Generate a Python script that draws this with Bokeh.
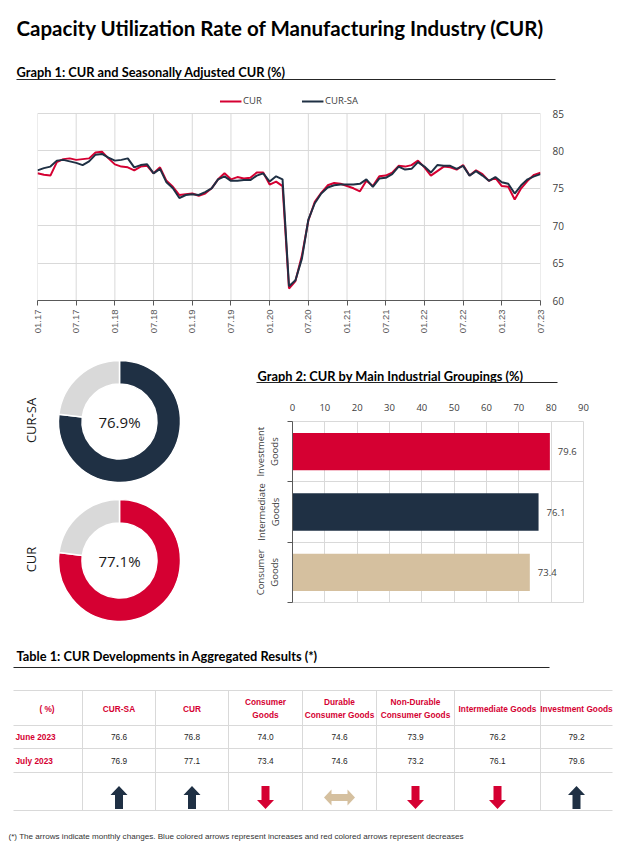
from math import pi
from bokeh.plotting import figure
from bokeh.models import Range1d, FixedTicker, Legend, LegendItem, ColumnDataSource, LinearAxis
from bokeh.layouts import column, row
from bokeh.embed import file_html
from bokeh.resources import INLINE
from bokeh.core.properties import value

RED = "#D50032"
NAVY = "#1F3044"
TAN = "#D5C09F"
LGRAY = "#D9D9D9"
TXT = "#404040"

# ---------------- data ----------------
cur = [
    77.0, 76.8, 76.7, 78.5, 78.9, 79.0, 78.8, 78.9, 79.0, 79.8, 79.9, 79.0,
    78.2, 77.9, 77.8, 77.4, 77.9, 78.0, 77.0, 77.8, 76.0, 75.2, 74.1, 74.2,
    74.3, 74.0, 74.3, 75.0, 76.2, 77.0, 76.2, 76.5, 76.3, 76.4, 77.1, 77.1,
    75.5, 75.9, 75.3, 61.6, 62.6, 66.0, 70.7, 73.2, 74.4, 75.4, 75.7, 75.6,
    75.3, 75.0, 74.6, 76.0, 75.3, 76.6, 76.7, 77.1, 78.0, 77.9, 78.1, 78.7,
    77.8, 76.7, 77.3, 77.9, 77.8, 77.5, 78.1, 76.7, 77.4, 76.9, 76.0, 76.4,
    75.3, 75.2, 73.5, 75.0, 76.0, 76.8, 77.1,
]
cur_sa = [
    77.4, 77.7, 77.9, 78.7, 78.8, 78.6, 78.4, 78.1, 78.6, 79.5, 79.6, 79.1,
    78.7, 78.8, 79.0, 77.8, 78.1, 78.2, 77.0, 77.6, 75.8, 75.0, 73.7, 74.1,
    74.2, 74.1, 74.5, 75.0, 76.2, 76.6, 76.0, 76.0, 76.1, 76.1, 76.7, 77.0,
    75.9, 76.6, 76.2, 61.9, 62.7, 65.6, 70.8, 73.0, 74.3, 75.1, 75.4, 75.5,
    75.5, 75.5, 75.6, 76.2, 75.2, 76.3, 76.4, 76.9, 77.9, 77.5, 77.6, 78.5,
    77.9, 77.1, 78.1, 78.0, 78.0, 77.6, 78.0, 76.7, 77.3, 76.7, 76.0, 76.5,
    75.8, 75.6, 74.3, 75.4, 76.2, 76.6, 76.9,
]
tick_labels = ["01.17", "07.17", "01.18", "07.18", "01.19", "07.19", "01.20",
               "07.20", "01.21", "07.21", "01.22", "07.22", "01.23", "07.23"]
months_per_tick = 6
y_ticks = [60, 65, 70, 75, 80, 85]

donut_labels = ["CUR-SA", "CUR"]
donut_values = [76.9, 77.1]

group_names = ["Investment Goods", "Intermediate Goods", "Consumer Goods"]
group_values = [79.6, 76.1, 73.4]
bar_ticks = [0, 10, 20, 30, 40, 50, 60, 70, 80, 90]

table_columns = ["CUR-SA", "CUR", "Consumer\nGoods", "Durable\nConsumer Goods",
                 "Non-Durable\nConsumer Goods", "Intermediate Goods", "Investment Goods"]
row_labels = ["June 2023", "July 2023"]
june_2023 = [76.6, 76.8, 74.0, 74.6, 73.9, 76.2, 79.2]
july_2023 = [76.9, 77.1, 73.4, 74.6, 73.2, 76.1, 79.6]

HEAD_FONT = value("Lato")
SANS = value("Open Sans")
ARIAL = value("Liberation Sans")
SANS_S = "Open Sans"
ARIAL_S = "Liberation Sans"
HEAD_SIZE = "12.8px"


def canvas(w, h, flip=True):
    p = figure(width=w, height=h, x_range=Range1d(0, w),
               y_range=Range1d(h, 0) if flip else Range1d(0, h),
               output_backend="svg", toolbar_location=None, min_border=0,
               x_axis_location=None, y_axis_location=None)
    p.grid.visible = False
    p.outline_line_color = None
    p.background_fill_color = "white"
    p.border_fill_color = "white"
    return p


# ---------------- header 1 ----------------
h1 = canvas(621, 87)
h1.text(x=[16], y=[27], text=["Capacity Utilization Rate of Manufacturing Industry (CUR)"],
        text_font=HEAD_FONT, text_font_style="bold", text_font_size="20.5px",
        text_baseline="middle", text_color="#000000")
h1.text(x=[16], y=[71], text=["Graph 1: CUR and Seasonally Adjusted CUR (%)"],
        text_font=HEAD_FONT, text_font_style="bold", text_font_size=HEAD_SIZE,
        text_baseline="middle", text_color="#000000")
h1.segment(x0=[16], x1=[555], y0=[79], y1=[79], line_color="#262626", line_width=1.2)

# ---------------- graph 1 ----------------
# frame extends above 85 so that the legend sits just above the plotting area
y_lo, y_hi = y_ticks[0], y_ticks[-1]
frame_top_extra = 19.0 / (187.0 / (y_hi - y_lo))   # 19 px of headroom for the legend
months = list(range(len(cur)))
src = ColumnDataSource(dict(m=months, cur=cur, sa=cur_sa))
p1 = figure(width=621, height=258, x_range=Range1d(0, len(cur) - 1),
            y_range=Range1d(y_lo, y_hi + frame_top_extra),
            y_axis_location="right", output_backend="svg", toolbar_location=None,
            min_border_left=37, min_border_right=81, min_border_bottom=45, min_border_top=7)
p1.outline_line_color = None

xt = [i * months_per_tick for i in range(len(tick_labels))]
# vertical grid lines limited to the 60-85 band
p1.segment(x0=xt, x1=xt, y0=[y_lo] * len(xt), y1=[y_hi] * len(xt),
           line_color=LGRAY, line_width=1)
r1 = p1.line("m", "cur", source=src, line_color=RED, line_width=2)
r2 = p1.line("m", "sa", source=src, line_color=NAVY, line_width=2)

p1.xaxis.ticker = FixedTicker(ticks=xt)
p1.xaxis.major_label_overrides = {t: lab for t, lab in zip(xt, tick_labels)}
p1.xaxis.major_label_orientation = pi / 2
p1.xaxis.major_label_text_font = ARIAL_S
p1.xaxis.major_label_text_font_size = "9.5px"
p1.xaxis.major_label_text_color = "#595959"
p1.xaxis.major_label_standoff = 4
p1.xaxis.axis_line_color = "#595959"
p1.xaxis.major_tick_line_color = "#595959"
p1.xaxis.major_tick_out = 5
p1.xaxis.major_tick_in = 0
p1.xaxis.minor_tick_line_color = None

p1.yaxis.ticker = FixedTicker(ticks=y_ticks)
p1.yaxis.axis_line_color = None
p1.yaxis.major_tick_line_color = None
p1.yaxis.minor_tick_line_color = None
p1.yaxis.major_label_standoff = 6
p1.yaxis.major_label_text_font = SANS_S
p1.yaxis.major_label_text_font_size = "10px"
p1.yaxis.major_label_text_color = TXT

p1.xgrid.grid_line_color = None
p1.ygrid.grid_line_color = LGRAY

leg = Legend(items=[LegendItem(label="CUR", renderers=[r1]),
                    LegendItem(label="CUR-SA", renderers=[r2])],
             orientation="horizontal", location="top_center",
             glyph_width=22, glyph_height=12, label_height=12, label_standoff=2,
             label_text_font=SANS_S, label_text_font_size="9.5px", label_text_color=TXT,
             padding=0, margin=0, spacing=38, border_line_color=None,
             background_fill_alpha=0)
p1.add_layout(leg)

# ---------------- donuts ----------------
pd = canvas(240, 292, flip=False)
donut_cy = [216, 77]
donut_colors = [NAVY, RED]
for lab, v, cy, col in zip(donut_labels, donut_values, donut_cy, donut_colors):
    a_end = pi / 2 - 2 * pi * v / 100
    pd.annular_wedge(x=[119, 119], y=[cy, cy], inner_radius=37.5, outer_radius=61,
                     start_angle=[pi / 2, a_end], end_angle=[a_end, pi / 2 - 2 * pi],
                     direction="clock", fill_color=[col, LGRAY],
                     line_color="white", line_width=1.5)
    pd.text(x=[119], y=[cy], text=[f"{v}%"], text_font=SANS, text_font_size="15px",
            text_align="center", text_baseline="middle", text_color="#1a1a1a")
    pd.text(x=[30], y=[cy + 1], text=[lab], angle=pi / 2, text_font=SANS,
            text_font_size="13px", text_align="center", text_baseline="middle",
            text_color="#1a1a1a")

# ---------------- header 2 ----------------
h2 = canvas(381, 45)
h2.text(x=[17], y=[30], text=["Graph 2: CUR by Main Industrial Groupings (%)"],
        text_font=HEAD_FONT, text_font_style="bold", text_font_size=HEAD_SIZE,
        text_baseline="middle", text_color="#000000")
h2.segment(x0=[16], x1=[317], y0=[37], y1=[37], line_color="#262626", line_width=1.2)

# ---------------- graph 2 ----------------
n = len(group_names)
ypos = [n - i - 0.5 for i in range(n)]
pb = figure(width=381, height=247, x_range=Range1d(0, 90), y_range=Range1d(0, n),
            x_axis_location="above", output_backend="svg", toolbar_location=None,
            min_border_left=52, min_border_right=38, min_border_top=31, min_border_bottom=35)
pb.outline_line_color = LGRAY
pb.hbar(y=ypos, right=group_values, left=0, height=0.62, fill_color=[RED, NAVY, TAN],
        line_color=None)
pb.text(x=group_values, y=ypos, text=[f"{v:.1f}" for v in group_values], x_offset=8,
        text_font=SANS, text_font_size="9.5px", text_color=TXT, text_baseline="middle")
pb.xaxis.ticker = FixedTicker(ticks=bar_ticks)
pb.xaxis.axis_line_color = None
pb.xaxis.major_tick_line_color = None
pb.xaxis.minor_tick_line_color = None
pb.xaxis.major_label_standoff = 5
pb.xaxis.major_label_text_font = SANS_S
pb.xaxis.major_label_text_font_size = "9.5px"
pb.xaxis.major_label_text_color = TXT

inner = pb.yaxis[0]
inner.ticker = FixedTicker(ticks=ypos, minor_ticks=list(range(n + 1)))
inner.major_label_overrides = {y: nm.split(" ", 1)[1] for y, nm in zip(ypos, group_names)}
inner.major_label_orientation = "parallel"
inner.major_tick_line_color = None
inner.major_tick_out = 0
inner.minor_tick_line_color = "#595959"
inner.minor_tick_out = 5
inner.minor_tick_in = 0
inner.axis_line_color = "#595959"
inner.major_label_standoff = 6
inner.major_label_text_font = SANS_S
inner.major_label_text_font_size = "9.5px"
inner.major_label_text_color = TXT

outer = LinearAxis(ticker=FixedTicker(ticks=ypos),
                   major_label_overrides={y: nm.split(" ", 1)[0] for y, nm in zip(ypos, group_names)},
                   major_label_orientation="parallel", axis_line_color=None,
                   major_tick_line_color=None, minor_tick_line_color=None,
                   major_tick_out=0, major_label_standoff=-2,
                   major_label_text_font=SANS_S, major_label_text_font_size="9.5px",
                   major_label_text_color=TXT)
pb.add_layout(outer, "left")

pb.xgrid.grid_line_color = LGRAY
pb.ygrid.ticker = FixedTicker(ticks=list(range(n + 1)))
pb.ygrid.grid_line_color = LGRAY

# ---------------- table ----------------
pt = canvas(621, 208)
pt.text(x=[16], y=[18], text=["Table 1: CUR Developments in Aggregated Results (*)"],
        text_font=HEAD_FONT, text_font_style="bold", text_font_size=HEAD_SIZE,
        text_baseline="middle", text_color="#000000")
pt.segment(x0=[13], x1=[549], y0=[30], y1=[30], line_color="#262626", line_width=1.2)

bounds = [13, 82, 155, 228, 302, 376, 454, 540, 612]
centers = [(a + b) / 2 for a, b in zip(bounds[:-1], bounds[1:])]
hy = [53, 88, 111, 135, 173]
pt.segment(x0=[bounds[0]] * len(hy), x1=[bounds[-1]] * len(hy), y0=hy, y1=hy,
           line_color=LGRAY, line_width=1)
vx = bounds[1:-1]
pt.segment(x0=vx, x1=vx, y0=[hy[0]] * len(vx), y1=[hy[-1]] * len(vx),
           line_color=LGRAY, line_width=1)

pt.text(x=[centers[0] - 1], y=[71], text=["( %)"], text_font=ARIAL, text_font_style="bold",
        text_font_size="8.3px", text_color=RED, text_align="center", text_baseline="middle")
pt.text(x=centers[1:], y=[71] * len(table_columns), text=table_columns, text_font=ARIAL,
        text_font_style="bold", text_font_size="8.3px", text_color=RED, text_align="center",
        text_baseline="middle", text_line_height=1.3)
row_y = [99.5, 123]
pt.text(x=[15, 15], y=row_y, text=row_labels, text_font=ARIAL, text_font_style="bold",
        text_font_size="8.3px", text_color=RED, text_baseline="middle")
for vals, yy in zip([june_2023, july_2023], row_y):
    pt.text(x=centers[1:], y=[yy] * len(vals), text=[f"{v:.1f}" for v in vals],
            text_font=ARIAL, text_font_size="8.3px", text_color="#262626",
            text_align="center", text_baseline="middle")

# arrows (direction from monthly change)
ay = 160
up_shape = [(0, -11.5), (8.5, -2.5), (4, -2.5), (4, 11.5), (-4, 11.5), (-4, -2.5), (-8.5, -2.5)]
side_shape = [(-15.5, 0), (-8, -8), (-8, -3.5), (8, -3.5), (8, -8), (15.5, 0),
              (8, 8), (8, 3.5), (-8, 3.5), (-8, 8)]
axs, ays, acol = [], [], []
for cx, a, b in zip(centers[1:], june_2023, july_2023):
    if b > a:
        shape, sgn, col = up_shape, 1, NAVY
    elif b < a:
        shape, sgn, col = up_shape, -1, RED
    else:
        shape, sgn, col = side_shape, 1, TAN
    axs.append([cx + dx for dx, dy in shape])
    ays.append([ay + sgn * dy for dx, dy in shape])
    acol.append(col)
pt.patches(xs=axs, ys=ays, fill_color=acol, line_color=None)

pt.text(x=[8], y=[199], text=["(*) The arrows indicate monthly changes. Blue colored arrows "
                              "represent increases and red colored arrows represent decreases"],
        text_font=ARIAL, text_font_size="8.1px", text_color="#333333", text_baseline="middle")

layout = column(row(h1), row(p1),
                row(row(pd), column(row(h2), row(pb), spacing=0), spacing=0),
                row(pt), spacing=0)
open("out.html", "w").write(file_html(layout, INLINE))
